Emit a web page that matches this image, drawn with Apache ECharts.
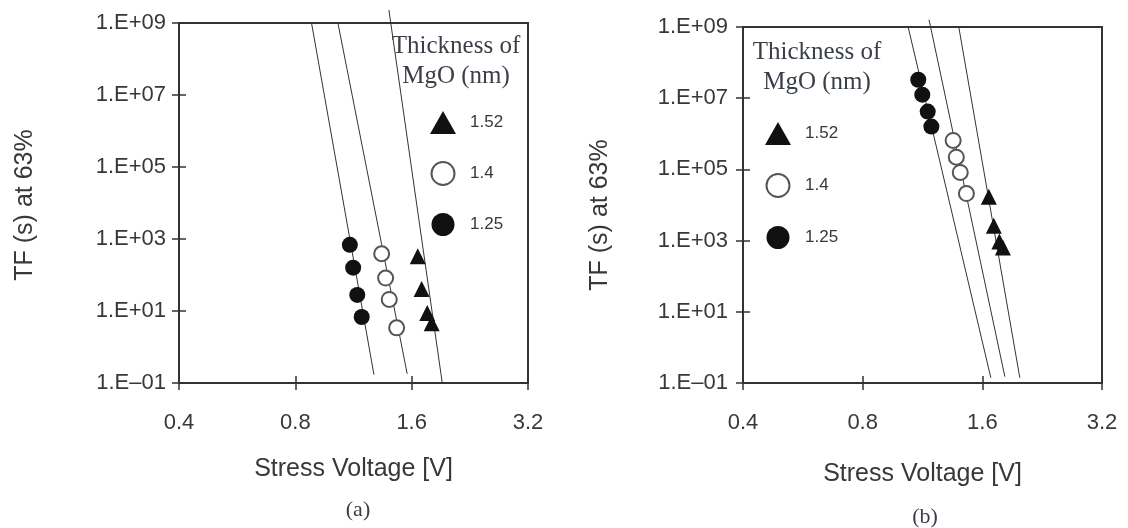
<!DOCTYPE html>
<html>
<head>
<meta charset="utf-8">
<script src="https://cdn.jsdelivr.net/npm/echarts@6/dist/echarts.min.js"></script>
<style>
html,body{margin:0;padding:0;background:#fff}
#main{width:1128px;height:528px}
</style>
</head>
<body>
<div id="main"></div>
<script>
// MgO thickness (nm), used as legend names
var thickness = ['1.52', '1.4', '1.25'];
var xTicks = [0.4, 0.8, 1.6, 3.2];
var yTicks = [0.1, 10, 1e3, 1e5, 1e7, 1e9];

// (a) stress voltage [V] / TF (s) at 63%
var voltA152 = [1.659, 1.698, 1.756, 1.803];
var tfA152   = [330, 41, 8.8, 4.6];
var voltA140 = [1.338, 1.370, 1.400, 1.463];
var tfA140   = [390, 82, 21, 3.4];
var voltA125 = [1.107, 1.129, 1.157, 1.188];
var tfA125   = [690, 160, 28, 6.8];
// (a) fitted lines, two end points each
var fitVoltA = [[0.881, 1.278], [1.031, 1.558], [1.397, 1.920]];
var fitTfA   = [[1e9, 0.17], [1e9, 0.18], [2.3e9, 0.1]];

// (b)
var voltB152 = [1.661, 1.710, 1.766, 1.802];
var tfB152   = [1.7e4, 2.6e3, 940, 640];
var voltB140 = [1.351, 1.376, 1.408, 1.459];
var tfB140   = [6.5e5, 2.2e5, 8.2e4, 2.1e4];
var voltB125 = [1.104, 1.130, 1.166, 1.191];
var tfB125   = [3.3e7, 1.26e7, 4.2e6, 1.6e6];
var fitVoltB = [[1.041, 1.681], [1.175, 1.823], [1.396, 1.988]];
var fitTfB   = [[1e9, 0.14], [1.6e9, 0.15], [1e9, 0.14]];

var sans = 'Liberation Sans, Arial, sans-serif';
var serif = 'Liberation Serif, Times New Roman, serif';
var ink = '#333';
var txt = '#383838';

function pairs(xs, ys){
	var out = [];
	for (var i = 0; i < xs.length; i++) out.push([xs[i], ys[i]]);
	return out;
}

function expLabel(v){
	var e = Math.round(Math.log10(v));
	var a = Math.abs(e);
	return '1.E' + (e < 0 ? '\u2013' : '+') + (a < 10 ? '0' : '') + a;
}

function xAxes(gi, gap){
	return [{
		type: 'log', logBase: 2, gridIndex: gi, min: 0.4, max: 3.2, position: 'bottom',
		name: 'Stress Voltage [V]', nameLocation: 'middle', nameGap: gap,
		nameTextStyle: {fontFamily: sans, fontSize: 25, color: txt},
		axisLine: {lineStyle: {color: ink, width: 2}},
		axisTick: {customValues: xTicks, length: 7, lineStyle: {color: ink, width: 1.5}},
		axisLabel: {customValues: xTicks, margin: 29, fontFamily: sans, fontSize: 22, color: txt,
			formatter: function(v){ return (+v).toFixed(1); }},
		splitLine: {show: false}
	}, {
		type: 'log', logBase: 2, gridIndex: gi, min: 0.4, max: 3.2, position: 'bottom',
		axisLine: {show: false}, axisLabel: {show: false}, splitLine: {show: false},
		axisTick: {customValues: xTicks, inside: true, length: 7, lineStyle: {color: ink, width: 1.5}}
	}];
}

function yAxes(gi, gap, margin, shift){
	return [{
		type: 'log', logBase: 10, gridIndex: gi, min: 0.1, max: 1e9, position: 'left',
		name: 'TF (s) at 63%', nameLocation: 'middle', nameGap: gap,
		nameTextStyle: {fontFamily: sans, fontSize: 25, color: txt, padding: [0, shift, 0, 0]},
		axisLine: {lineStyle: {color: ink, width: 2}},
		axisTick: {customValues: yTicks, length: 7, lineStyle: {color: ink, width: 1.5}},
		axisLabel: {customValues: yTicks, margin: margin, fontFamily: sans, fontSize: 22, color: txt,
			formatter: expLabel},
		splitLine: {show: false}
	}, {
		type: 'log', logBase: 10, gridIndex: gi, min: 0.1, max: 1e9, position: 'left',
		axisLine: {show: false}, axisLabel: {show: false}, splitLine: {show: false},
		axisTick: {customValues: yTicks, inside: true, length: 7, lineStyle: {color: ink, width: 1.5}}
	}];
}

function panelSeries(ax, v152, t152, v140, t140, v125, t125, fitV, fitT){
	var s = [];
	for (var i = 0; i < fitV.length; i++) {
		s.push({
			type: 'line', xAxisIndex: ax, yAxisIndex: ax, clip: false, silent: true,
			symbol: 'none', lineStyle: {color: ink, width: 1},
			data: pairs(fitV[i], fitT[i]), z: 1
		});
	}
	s.push({name: thickness[0], type: 'scatter', xAxisIndex: ax, yAxisIndex: ax,
		symbol: 'triangle', symbolSize: 16, itemStyle: {color: '#111', opacity: 1}, data: pairs(v152, t152), z: 3});
	s.push({name: thickness[1], type: 'scatter', xAxisIndex: ax, yAxisIndex: ax,
		symbol: 'emptyCircle', symbolSize: 15,
		itemStyle: {color: '#555', borderColor: '#555', borderWidth: 1.5, opacity: 1},
		data: pairs(v140, t140), z: 3});
	s.push({name: thickness[2], type: 'scatter', xAxisIndex: ax, yAxisIndex: ax,
		symbol: 'circle', symbolSize: 16, itemStyle: {color: '#111', opacity: 1}, data: pairs(v125, t125), z: 3});
	return s;
}

function legendAt(left, top, gap){
	return {
		data: thickness, orient: 'vertical', left: left, top: top, padding: 0,
		itemWidth: 26, itemHeight: 23, itemGap: gap, selectedMode: false,
		textStyle: {fontFamily: sans, fontSize: 17, color: txt, padding: [0, 0, 0, 9]}
	};
}

function note(text, left, top, size, lh){
	return {
		text: text, left: left, top: top, textAlign: 'center', padding: 0,
		textStyle: {fontFamily: serif, fontSize: size, fontWeight: 'normal', color: '#3a3f47', lineHeight: lh}
	};
}

var chart = echarts.init(document.getElementById('main'));

chart.setOption({
	animation: false,
	backgroundColor: '#fff',
	title: [
		note('Thickness of\nMgO (nm)', 456, 31, 25, 30),
		note('Thickness of\nMgO (nm)', 817, 37, 25, 30),
		note('(a)', 358, 498, 22, 24),
		note('(b)', 925, 505, 22, 24)
	],
	legend: [legendAt(430, 111, 27), legendAt(765, 122, 28)],
	grid: [
		{left: 179, top: 23, width: 349, height: 360, show: true, borderColor: ink, borderWidth: 2},
		{left: 743, top: 27, width: 359, height: 356, show: true, borderColor: ink, borderWidth: 2}
	],
	xAxis: xAxes(0, 74).concat(xAxes(1, 79)),
	yAxis: yAxes(0, 141, 13, 4).concat(yAxes(1, 130, 15, 20)),
	series: panelSeries(0, voltA152, tfA152, voltA140, tfA140, voltA125, tfA125, fitVoltA, fitTfA)
		.concat(panelSeries(2, voltB152, tfB152, voltB140, tfB140, voltB125, tfB125, fitVoltB, fitTfB))
});
</script>
</body>
</html>
